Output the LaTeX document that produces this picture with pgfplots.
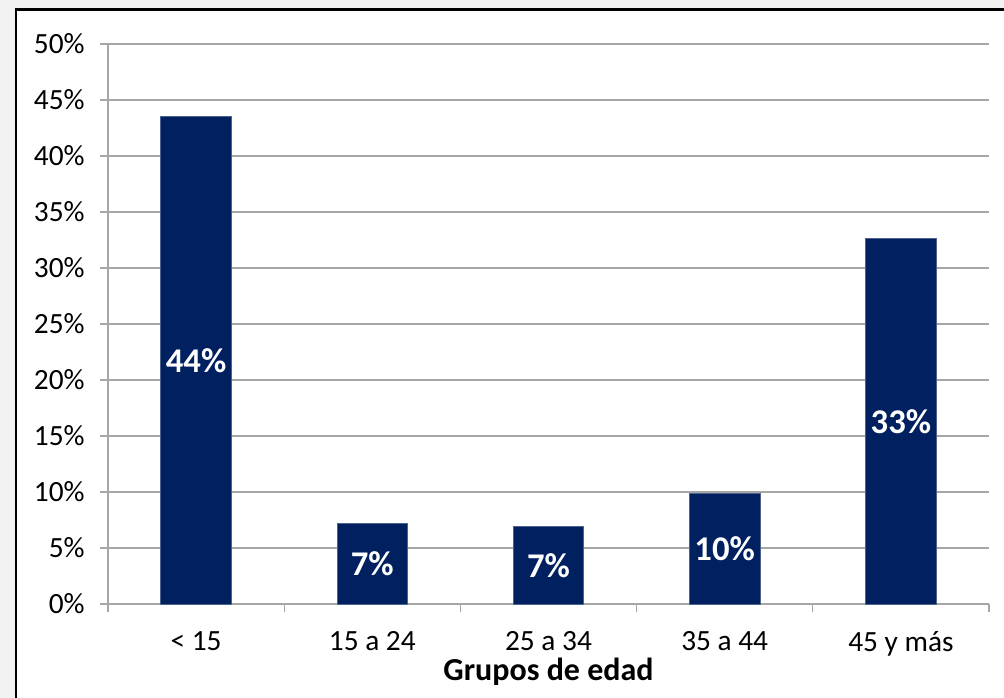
\documentclass[border=0pt]{standalone}
\usepackage{pgfplots}
\usepackage{pgfplotstable}
\pgfplotsset{compat=1.18}
\usepackage{fontspec}
\setmainfont{Carlito}
\definecolor{barblue}{HTML}{002060}
\definecolor{bargrid}{HTML}{A6A6A6}
\definecolor{bgout}{HTML}{F2F2F2}

\pgfplotstableread{
x  y     lab
0  43.5  44\%
1  7.2   7\%
2  6.9   7\%
3  9.9   10\%
4  32.6  33\%
}\edaddata

\begin{document}
\begin{tikzpicture}
\useasboundingbox (0,0) rectangle (753pt,523.5pt);
\clip (0,0) rectangle (753pt,523.5pt);
\fill[bgout] (0,0) rectangle (753pt,523.5pt);
\filldraw[fill=white, draw=black, line width=2pt] (12pt,-10pt) rectangle (770pt,516.5pt);
\begin{axis}[
  at={(81pt,70.5pt)}, anchor=south west,
  scale only axis,
  width=660.75pt, height=420pt,
  xmin=-0.5, xmax=4.5,
  ymin=0, ymax=50,
  ytick={0,5,...,50},
  yticklabel={\pgfmathprintnumber{\tick}\%},
  xtick={0,...,4},
  xticklabels={< 15, 15 a 24, 25 a 34, 35 a 44, 45 y más},
  minor xtick={-0.5,0.5,...,4.5},
  major x tick style={draw=none},
  tick align=outside,
  major tick length=6pt,
  minor tick length=6pt,
  tick style={bargrid, line width=0.8pt},
  ymajorgrids,
  grid style={bargrid, line width=0.8pt},
  axis x line*=bottom,
  axis y line*=left,
  axis line style={bargrid, line width=0.8pt, -},
  tick label style={font=\fontsize{22}{25}\selectfont, text=black},
  /pgf/number format/assume math mode=true,
  xticklabel style={yshift=-11pt},
  yticklabel style={xshift=-8pt},
  xlabel={\bfseries Grupos de edad},
  xlabel style={font=\fontsize{24}{28}\selectfont, at={(axis description cs:0.5,0)}, anchor=center, yshift=-51pt},
  clip=false,
]
\addplot[ybar, bar width=0.4, fill=barblue, draw=barblue!70!white, line width=0.6pt]
  table[x=x, y=y] {\edaddata};
\addplot[only marks, mark=none,
  nodes near coords,
  point meta=explicit symbolic,
  nodes near coords align=center,
  nodes near coords style={anchor=center, text=white,
    font=\bfseries\fontsize{26}{30}\selectfont}]
  table[x=x, y expr=\thisrow{y}/2, meta=lab] {\edaddata};
\end{axis}
\end{tikzpicture}
\end{document}
